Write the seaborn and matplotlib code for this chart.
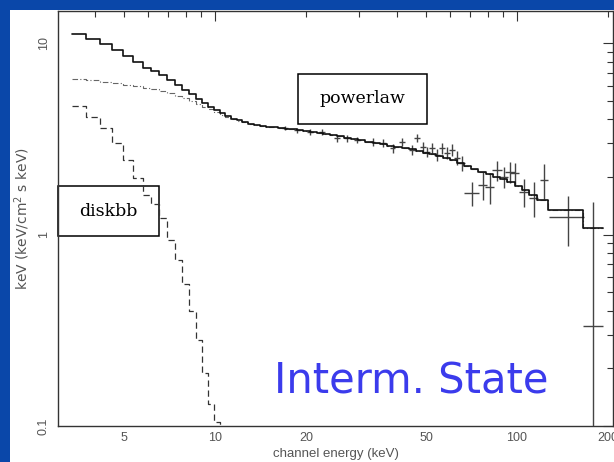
import matplotlib
matplotlib.use("Agg")
import matplotlib.pyplot as plt
from matplotlib.patches import Rectangle
from matplotlib.ticker import FixedLocator, FuncFormatter, NullFormatter
import seaborn as sns

# ---- model components (step functions over channel-energy bins, keV) ----
bin_edges = [3.36, 3.74, 4.16, 4.56, 4.96, 5.35, 5.78, 6.14, 6.50, 6.92, 7.35, 7.78,
             8.22, 8.65, 9.06, 9.48, 9.90, 10.35, 10.8, 11.3, 11.8, 12.3, 12.9, 13.5,
             14.1, 14.8, 15.5, 16.2, 17.0, 17.8, 18.7, 19.6, 20.6, 21.7, 22.8, 24.0,
             25.3, 26.7, 28.2, 29.8, 31.5, 33.3, 35.2, 37.2, 39.3, 41.5, 43.8, 46.2,
             48.7, 51.3, 54.0, 56.9, 60.0, 63.3, 66.8, 70.5, 74.5, 78.8, 83.3, 88.0,
             93.0, 98.3, 104.0, 110.0, 116.5, 126.6, 165.4, 192.7]

powerlaw = [6.50, 6.40, 6.28, 6.18, 6.06, 5.95, 5.83, 5.72, 5.60, 5.46, 5.32, 5.16,
            5.00, 4.83, 4.66, 4.50, 4.35, 4.22, 4.10, 4.00, 3.92, 3.85, 3.79, 3.74,
            3.70, 3.66, 3.63, 3.60, 3.57, 3.54, 3.50, 3.46, 3.42, 3.38, 3.34, 3.30,
            3.26, 3.21, 3.16, 3.11, 3.06, 3.01, 2.96, 2.91, 2.87, 2.83, 2.78, 2.73,
            2.68, 2.63, 2.57, 2.51, 2.44, 2.37, 2.29, 2.21, 2.13, 2.06, 2.00, 1.94,
            1.88, 1.80, 1.70, 1.60, 1.51, 1.34, 1.08]

diskbb = [4.69, 4.11, 3.60, 3.00, 2.45, 1.97, 1.60, 1.45, 1.22, 0.94, 0.74, 0.55,
          0.40, 0.28, 0.19, 0.13, 0.105, 0.072, 0.050, 0.034, 0.022, 0.014]

total = [11.19, 10.51, 9.88, 9.18, 8.51, 7.92, 7.43, 7.17, 6.82, 6.40, 6.06, 5.71,
         5.40, 5.11, 4.85, 4.63, 4.46, 4.29, 4.15, 4.03, 3.94, 3.86, 3.79, 3.74,
         3.70, 3.66, 3.63, 3.60, 3.57, 3.54, 3.50, 3.46, 3.42, 3.38, 3.34, 3.30,
         3.26, 3.21, 3.16, 3.11, 3.06, 3.01, 2.96, 2.91, 2.87, 2.83, 2.78, 2.73,
         2.68, 2.63, 2.57, 2.51, 2.44, 2.37, 2.29, 2.21, 2.13, 2.06, 2.00, 1.94,
         1.88, 1.80, 1.70, 1.60, 1.51, 1.34, 1.08]

# ---- unfolded data points ----
energy = [17.1, 18.7, 20.6, 22.6, 25.4, 27.4, 29.5, 33.3, 36.0, 38.8, 41.6, 44.9,
          46.6, 48.9, 50.4, 52.3, 54.3, 56.5, 58.7, 60.9, 63.3, 65.7, 71.0, 77.1,
          81.4, 85.9, 90.6, 94.9, 98.4, 105.4, 113.8, 122.8, 147.4, 178.6]
energy_err = [0.4, 0.4, 0.5, 0.5, 0.6, 0.6, 0.7, 0.7, 0.8, 0.8, 0.9, 0.9,
              1.0, 1.0, 1.0, 1.1, 1.1, 1.2, 1.2, 1.3, 1.3, 1.4, 4.0, 2.6,
              2.8, 3.0, 3.1, 3.3, 3.4, 4.2, 4.0, 3.7, 19.4, 13.7]
flux = [3.60, 3.50, 3.43, 3.43, 3.19, 3.19, 3.12, 3.04, 3.00, 2.83, 3.04, 2.76,
        3.19, 2.86, 2.70, 2.83, 2.60, 2.83, 2.67, 2.76, 2.51, 2.36, 1.65, 1.81,
        1.77, 2.17, 2.00, 2.12, 2.09, 1.67, 1.55, 1.93, 1.23, 0.333]
flux_err = [0.10, 0.10, 0.12, 0.12, 0.13, 0.13, 0.13, 0.14, 0.14, 0.15, 0.15, 0.16,
            0.16, 0.17, 0.17, 0.18, 0.18, 0.19, 0.19, 0.20, 0.21, 0.22, 0.24, 0.30,
            0.32, 0.26, 0.25, 0.26, 0.27, 0.27, 0.32, 0.40, 0.36, 1.15]

x_major = [10, 100]
x_minor = [3, 4, 5, 6, 7, 8, 9, 20, 30, 40, 50, 60, 70, 80, 90, 200]
x_labelled = [5, 10, 20, 50, 100, 200]
y_major = [0.1, 1, 10]
y_minor = [0.2, 0.3, 0.4, 0.5, 0.6, 0.7, 0.8, 0.9, 2, 3, 4, 5, 6, 7, 8, 9]

sns.set_theme(style="white")
plt.rcParams["font.family"] = ["Liberation Sans", "DejaVu Sans"]

W, H = 614, 462
fig = plt.figure(figsize=(W / 100, H / 100), dpi=100, facecolor="#0a47a9")
fig.patches.append(Rectangle((10 / W, 0), 1, 1 - 10 / H, transform=fig.transFigure,
                             facecolor="white", edgecolor="none", zorder=-10))
ax = fig.add_axes([58 / W, 1 - 426 / H, (613 - 58) / W, (426 - 11) / H])
ax.set_facecolor("none")
ax.set_xscale("log")
ax.set_yscale("log")


def stepped(edges, values):
    n = len(values)
    return list(edges[:n + 1]), list(values) + [values[-1]]


ex, ey = stepped(bin_edges, total)
sns.lineplot(x=ex, y=ey, ax=ax, drawstyle="steps-post", color="#111111", lw=1.2,
             estimator=None, sort=False, zorder=3)
px, py = stepped(bin_edges, powerlaw)
sns.lineplot(x=px, y=py, ax=ax, drawstyle="steps-post", color="#666666", lw=0.8,
             linestyle=(0, (5, 2, 1, 2)), estimator=None, sort=False, zorder=2.5)
dx, dy = stepped(bin_edges, diskbb)
sns.lineplot(x=dx, y=dy, ax=ax, drawstyle="steps-post", color="#333333", lw=0.9,
             linestyle=(0, (5, 3)), estimator=None, sort=False, zorder=2.5)

ax.errorbar(energy, flux, xerr=energy_err, yerr=flux_err, fmt="none",
            ecolor="#444444", elinewidth=1.0, capsize=0, zorder=2.6)

ax.set_xlim(3.02, 208)
ax.set_ylim(0.1, 14.7)

ax.xaxis.set_major_locator(FixedLocator(x_major))
ax.xaxis.set_minor_locator(FixedLocator(x_minor))
ax.yaxis.set_major_locator(FixedLocator(y_major))
ax.yaxis.set_minor_locator(FixedLocator(y_minor))
fmt_x = FuncFormatter(lambda v, p: f"{v:g}" if round(v) in x_labelled else "")
ax.xaxis.set_major_formatter(fmt_x)
ax.xaxis.set_minor_formatter(fmt_x)
ax.yaxis.set_major_formatter(FuncFormatter(lambda v, p: f"{v:g}"))
ax.yaxis.set_minor_formatter(NullFormatter())

ax.tick_params(which="both", direction="in", top=True, right=True, color="#333333",
               labelcolor="#555555", labelsize=9, width=0.8)
ax.tick_params(which="major", length=7)
ax.tick_params(which="minor", length=4)
ax.tick_params(axis="x", which="both", pad=4)
ax.tick_params(axis="y", which="both", pad=6)
for lab in ax.get_yticklabels():
    lab.set_rotation(90)
    lab.set_va("center")
for s in ax.spines.values():
    s.set_color("#333333")
    s.set_linewidth(1.0)

ax.set_xlabel("channel energy (keV)", fontsize=9.5, color="#555555", labelpad=3)
ax.set_ylabel("keV (keV/cm$^2$ s keV)", fontsize=10, color="#555555", labelpad=4,
              family=["DejaVu Sans"])

# component labels
for (x0, x1, y0, y1, txt) in [(0.432, 0.665, 0.728, 0.848, "powerlaw"),
                              (0.0, 0.182, 0.458, 0.578, "diskbb")]:
    ax.add_patch(Rectangle((x0, y0), x1 - x0, y1 - y0, transform=ax.transAxes,
                           facecolor="white", edgecolor="black", lw=1.1, zorder=1,
                           clip_on=False))
    ax.text((x0 + x1) / 2, (y0 + y1) / 2, txt, transform=ax.transAxes, ha="center",
            va="center", fontsize=12.5, family=["DejaVu Serif"], color="black", zorder=4)

ax.text(0.636, 0.108, "Interm. State", transform=ax.transAxes, ha="center", va="center",
        fontsize=30, family=["DejaVu Sans"], color="#3b3bec", zorder=4)

fig.savefig("out.png", dpi=100, facecolor=fig.get_facecolor())
